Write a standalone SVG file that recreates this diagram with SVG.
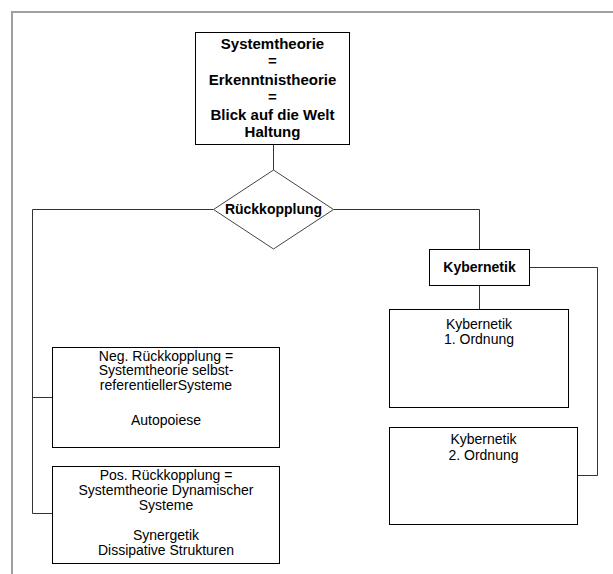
<svg xmlns="http://www.w3.org/2000/svg" width="613" height="574" viewBox="0 0 613 574">
  <style>
    .box { fill: #fff; stroke: #000; stroke-width: 1; }
    .dia { fill: #fff; stroke: #444; stroke-width: 1; }
    .conn { fill: none; stroke: #333; stroke-width: 1; }
    .frame { fill: none; stroke: #a0a0a0; stroke-width: 2; }
    text { font-family: "Liberation Sans", Arial, sans-serif; fill: #000; text-anchor: middle; }
    .b15 { font-size: 15px; font-weight: bold; }
    .b14 { font-size: 14px; font-weight: bold; }
    .r14 { font-size: 14px; }
  </style>
  <rect x="0" y="0" width="613" height="574" fill="#fff"/>
  <path class="frame" d="M12,574 V12 H613"/>
  <g id="connectors">
    <path class="conn" d="M273.5,144.5 V170"/>
    <path class="conn" d="M213.5,209.5 H32.5 V513.5 H52.5"/>
    <path class="conn" d="M32.5,397.5 H52.5"/>
    <path class="conn" d="M333.5,209.5 H479.5 V249.5"/>
    <path class="conn" d="M479.5,285.5 V309.5"/>
    <path class="conn" d="M529.5,267.5 H597.5 V475.5 H577.5"/>
  </g>
  <g id="systemtheorie">
    <rect class="box" x="195.5" y="32.5" width="154" height="112"/>
    <text class="b15" x="272.5" y="48.5">Systemtheorie</text>
    <text class="b15" x="272.5" y="66.3">=</text>
    <text class="b15" x="272.5" y="84.8">Erkenntnistheorie</text>
    <text class="b15" x="272.5" y="102">=</text>
    <text class="b15" x="272.5" y="119.5">Blick auf die Welt</text>
    <text class="b15" x="272.5" y="137.3">Haltung</text>
  </g>
  <g id="rueckkopplung">
    <polygon class="dia" points="273.5,170 333.5,209.5 273.5,249 213.5,209.5"/>
    <text class="b14" x="273.5" y="213.5">Rückkopplung</text>
  </g>
  <g id="kybernetik">
    <rect class="box" x="429.5" y="249.5" width="100" height="36"/>
    <text class="b14" x="479.5" y="271.5">Kybernetik</text>
  </g>
  <g id="kybernetik1">
    <rect class="box" x="389.5" y="309.5" width="179" height="98"/>
    <text class="r14" x="479" y="328.5">Kybernetik</text>
    <text class="r14" x="479" y="343.5">1. Ordnung</text>
  </g>
  <g id="kybernetik2">
    <rect class="box" x="389.5" y="427.5" width="188" height="97"/>
    <text class="r14" x="483.5" y="444">Kybernetik</text>
    <text class="r14" x="483.5" y="459.5">2. Ordnung</text>
  </g>
  <g id="negrueck">
    <rect class="box" x="52.5" y="347.5" width="227" height="100"/>
    <text class="r14" x="166" y="360.5">Neg. Rückkopplung =</text>
    <text class="r14" x="166" y="375">Systemtheorie selbst-</text>
    <text class="r14" x="166" y="389.5">referentiellerSysteme</text>
    <text class="r14" x="166" y="425">Autopoiese</text>
  </g>
  <g id="posrueck">
    <rect class="box" x="52.5" y="466.5" width="227" height="97"/>
    <text class="r14" x="166" y="480">Pos. Rückkopplung =</text>
    <text class="r14" x="166" y="495">Systemtheorie Dynamischer</text>
    <text class="r14" x="166" y="510">Systeme</text>
    <text class="r14" x="166" y="540">Synergetik</text>
    <text class="r14" x="166" y="555">Dissipative Strukturen</text>
  </g>
</svg>
